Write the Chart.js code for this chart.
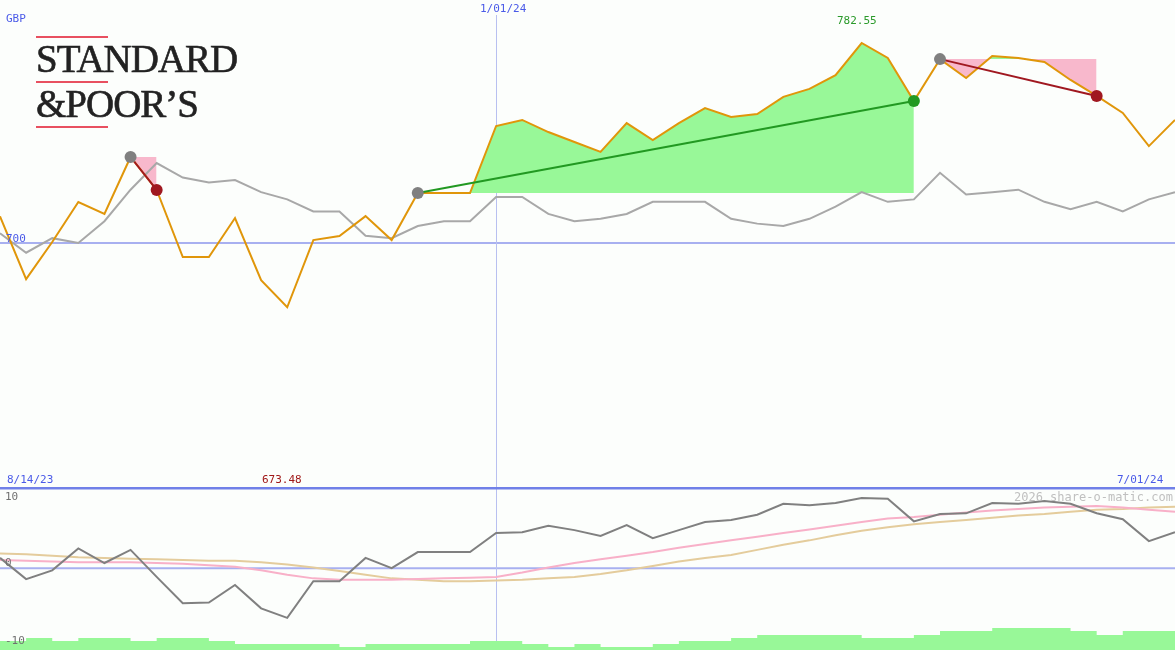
<!DOCTYPE html>
<html><head><meta charset="utf-8">
<script src="https://cdn.jsdelivr.net/npm/chart.js@4"></script>
<style>
html,body{margin:0;padding:0;background:#fcfefc;}
#wrap{position:relative;width:1175px;height:650px;overflow:hidden;background:#fcfefc;font-family:"DejaVu Sans Mono",monospace;font-size:11px;}
canvas{position:absolute;left:0;}
.t{position:absolute;white-space:nowrap;}
.logo{position:absolute;left:36px;top:36px;font-family:"Liberation Serif",serif;color:#222;}
.logo .r{width:72px;height:2px;background:#e85060;}
.logo .w{font-size:39px;line-height:42px;letter-spacing:-1px;-webkit-text-stroke:0.6px #222;}
</style></head><body>
<div id="wrap">
<canvas id="top" width="1175" height="487" style="top:0;width:1175px;height:487px"></canvas>
<canvas id="bot" width="1175" height="163" style="top:487px;width:1175px;height:163px"></canvas>
<div class="logo">
 <div class="r"></div>
 <div class="w">STANDARD</div>
 <div class="r" style="margin-top:1px"></div>
 <div class="w">&amp;POOR’S</div>
 <div class="r" style="margin-top:1px"></div>
</div>
<div class="t" style="left:6px;top:12px;color:#4a5ae8">GBP</div>
<div class="t" style="left:480px;top:2px;color:#4a5ae8">1/01/24</div>
<div class="t" style="left:837px;top:14px;color:#2a9a2a">782.55</div>
<div class="t" style="left:6px;top:232px;color:#4a5ae8">700</div>
<div class="t" style="left:7px;top:473px;color:#4a5ae8">8/14/23</div>
<div class="t" style="left:262px;top:473px;color:#a01818">673.48</div>
<div class="t" style="left:1117px;top:473px;color:#4a5ae8">7/01/24</div>
<div class="t" style="left:5px;top:490px;color:#707070">10</div>
<div class="t" style="left:5px;top:556px;color:#707070">0</div>
<div class="t" style="left:5px;top:634px;color:#707070">-10</div>
<div class="t" style="left:1014px;top:490px;color:#c0c0c0;font-size:12px">2026 share-o-matic.com</div>
</div>
<script>
const dates = ["8/14/23","1/01/24","7/01/24"];
const price = [711,685.1,700.4,716.9,712.0,735.5,721.9,694.2,694.2,710.3,684.7,673.48,701.2,702.9,711.1,701.2,720.6,720.6,720.6,748.3,750.8,745.8,741.7,737.6,749.5,742.5,749.5,755.7,752.0,753.2,760.3,763.6,769.3,782.55,776.4,758.6,775.9,768.1,777.2,776.4,774.7,767.3,760.7,753.7,740.0,750.8];
const avg = [704,696,702,700,709,722,733,727,725,726,721,718,713,713,703,702,707,709,709,719,719,712,709,710,712,717,717,717,710,708,707,710,715,721,717,718,729,720,721,722,717,714,717,713,718,721];
const osc = [1.4,-1.5,-0.3,2.7,0.7,2.5,-1.2,-4.8,-4.7,-2.3,-5.5,-6.8,-1.8,-1.8,1.4,0,2.2,2.2,2.2,4.8,4.9,5.8,5.2,4.4,5.9,4.1,5.2,6.3,6.6,7.3,8.8,8.6,8.9,9.6,9.5,6.4,7.4,7.5,8.9,8.8,9.2,8.8,7.5,6.7,3.7,4.9];
const sigFast = [1.1,1.0,0.9,0.8,0.8,0.8,0.7,0.6,0.4,0.2,-0.3,-0.9,-1.4,-1.6,-1.6,-1.6,-1.5,-1.4,-1.3,-1.2,-0.6,0.1,0.7,1.2,1.7,2.2,2.8,3.3,3.8,4.3,4.8,5.3,5.8,6.3,6.8,7.0,7.3,7.6,7.9,8.1,8.3,8.4,8.5,8.3,8.0,7.7];
const sigSlow = [2.0,1.9,1.7,1.5,1.4,1.3,1.2,1.1,1.0,1.0,0.8,0.5,0.1,-0.4,-0.9,-1.4,-1.6,-1.8,-1.8,-1.7,-1.6,-1.4,-1.2,-0.8,-0.3,0.3,0.9,1.4,1.8,2.5,3.2,3.8,4.5,5.1,5.6,6.0,6.3,6.6,6.9,7.2,7.4,7.7,8.0,8.1,8.3,8.4];
const volume = [9,9,12,9,12,12,9,12,12,9,6,6,6,6,3,6,6,6,6,9,9,6,3,6,3,3,6,9,9,12,15,15,15,15,12,12,15,19,19,22,22,22,19,15,19,19];
const trades = [{from:5,to:6,win:false},{from:16,to:35,win:true},{from:36,to:42,win:false}];
const refLevel = 700, vIdx = 19;

const N = price.length;
const pts = a => a.map((v,i)=>({x:i,y:v}));
const datasets = [];
trades.forEach(t=>{
  const base = price[t.from];
  datasets.push({data:pts(price).slice(t.from,t.to+1),borderWidth:0,pointRadius:0,
    fill:{target:{value:base},above:'#98f898',below:'#f8b8cc'},order:5});
  datasets.push({data:[{x:t.from,y:price[t.from]},{x:t.to,y:price[t.to]}],
    borderColor:t.win?'#229922':'#a01820',borderWidth:2,pointRadius:[6,6],
    pointBackgroundColor:['#808080',t.win?'#229922':'#a01820'],pointBorderWidth:0,order:1});
});
datasets.push({data:pts(avg),borderColor:'#a8a8a8',borderWidth:2,pointRadius:0,order:3});
datasets.push({data:pts(price),borderColor:'#e0960a',borderWidth:2,pointRadius:0,order:2});

const guides = (zeroVal, vTop, thickTop) => ({id:'g',beforeDatasetsDraw(c){
  const {ctx,scales:{x,y},chartArea:a}=c;ctx.save();
  ctx.strokeStyle='#a8b0f0';ctx.lineWidth=2;const yy=y.getPixelForValue(zeroVal);
  ctx.beginPath();ctx.moveTo(a.left,yy);ctx.lineTo(a.right,yy);ctx.stroke();
  ctx.strokeStyle='#b8c0f0';ctx.lineWidth=1;const xx=Math.round(x.getPixelForValue(vIdx))+0.5;
  ctx.beginPath();ctx.moveTo(xx,vTop);ctx.lineTo(xx,a.bottom);ctx.stroke();
  if(thickTop){ctx.strokeStyle='#7080e8';ctx.lineWidth=3;ctx.beginPath();ctx.moveTo(0,1);ctx.lineTo(a.right,1);ctx.stroke();}
  ctx.restore();}});

const common = {responsive:false,animation:false,layout:{padding:0,autoPadding:false},
  plugins:{legend:{display:false},tooltip:{enabled:false}}};
new Chart(document.getElementById('top'),{type:'line',data:{datasets},
  options:{...common,scales:{x:{type:'linear',min:0,max:N-1,display:false},
    y:{min:599.3,max:800.3,display:false}}},plugins:[guides(refLevel,15,false)]});

new Chart(document.getElementById('bot'),{type:'line',data:{datasets:[
  {data:pts(volume),yAxisID:'v',stepped:'after',borderWidth:0,pointRadius:0,fill:'origin',backgroundColor:'#98f898',order:5},
  {data:pts(sigSlow),borderColor:'#e4cc9c',borderWidth:2,pointRadius:0,order:3},
  {data:pts(sigFast),borderColor:'#f8b0c8',borderWidth:2,pointRadius:0,order:2},
  {data:pts(osc),borderColor:'#808080',borderWidth:2,pointRadius:0,order:1}]},
  options:{...common,scales:{x:{type:'linear',min:0,max:N-1,display:false},
    y:{min:-11.2,max:11.1,display:false},v:{min:0,max:163,display:false}}},
  plugins:[guides(0,0,true)]});
</script>
</body></html>
